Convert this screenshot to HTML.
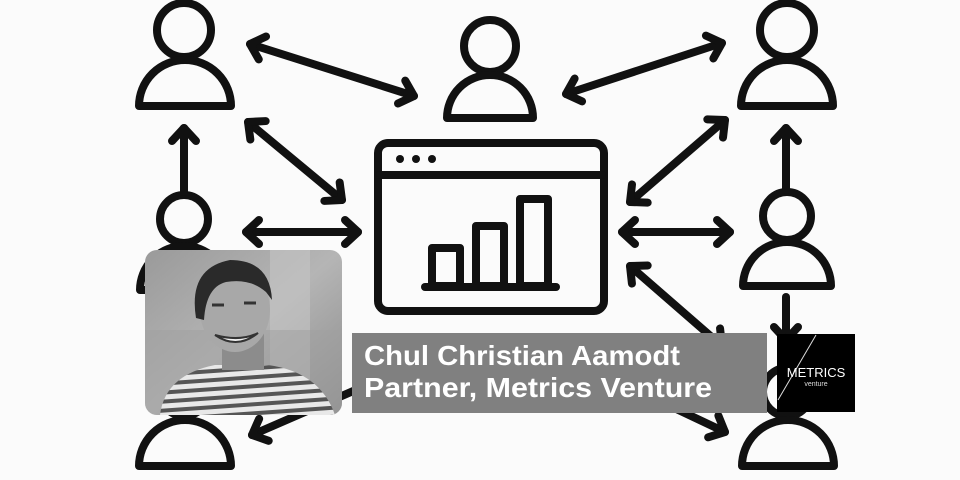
<!DOCTYPE html>
<html><head><meta charset="utf-8"><style>
html,body{margin:0;padding:0;background:#fbfbfb;}
svg{display:block;}
</style></head><body>
<svg width="960" height="480" viewBox="0 0 960 480" xmlns="http://www.w3.org/2000/svg">
<defs>
<marker id="h" markerUnits="userSpaceOnUse" markerWidth="40" markerHeight="40" refX="0" refY="0" viewBox="-20 -20 40 40" orient="auto-start-reverse" overflow="visible">
<path d="M-13,-12 L0,0 L-13,12" fill="none" stroke="#111" stroke-width="8" stroke-linecap="round" stroke-linejoin="round"/>
</marker>
<clipPath id="pc"><rect x="145" y="250" width="197" height="165" rx="12"/></clipPath>
<linearGradient id="bg" x1="0" y1="0" x2="1" y2="1"><stop offset="0" stop-color="#9a9a9a"/><stop offset="0.5" stop-color="#b5b5b5"/><stop offset="1" stop-color="#8a8a8a"/></linearGradient>
<pattern id="st" width="10" height="9" patternUnits="userSpaceOnUse" patternTransform="rotate(-4)"><rect width="10" height="9" fill="#e8e8e8"/><rect y="5" width="10" height="4" fill="#555"/></pattern>
</defs>
<rect width="960" height="480" fill="#fbfbfb"/>
<g fill="none" stroke="#111" stroke-width="8" stroke-linecap="round" stroke-linejoin="round">
<circle cx="184" cy="30" r="27"/><path d="M139,106 A46,46 0 0 1 231,106 Z"/>
<circle cx="490" cy="46" r="26"/><path d="M447,118 A43,43 0 0 1 533,118 Z"/>
<circle cx="787" cy="30" r="27"/><path d="M741,106 A46,46 0 0 1 833,106 Z"/>
<circle cx="184" cy="219" r="24"/><path d="M140,290 A44,44 0 0 1 228,290 Z"/>
<circle cx="787" cy="216" r="24"/><path d="M743,286 A44,44 0 0 1 831,286 Z"/>
<circle cx="184" cy="392" r="24"/><path d="M139,466 A46,46 0 0 1 231,466 Z"/>
<circle cx="787" cy="392" r="24"/><path d="M742,466 A46,46 0 0 1 834,466 Z"/>
<rect x="378" y="143" width="226" height="168" rx="10"/>
<line x1="380" y1="175" x2="602" y2="175"/>
<rect x="432" y="248" width="28" height="38"/>
<rect x="476" y="226" width="28" height="60"/>
<rect x="520" y="199" width="28" height="87"/>
<line x1="425" y1="287" x2="556" y2="287"/>
<line x1="250" y1="44" x2="414" y2="96" marker-start="url(#h)" marker-end="url(#h)"/>
<line x1="566" y1="94" x2="722" y2="43" marker-start="url(#h)" marker-end="url(#h)"/>
<line x1="248" y1="122" x2="342" y2="200" marker-start="url(#h)" marker-end="url(#h)"/>
<line x1="630" y1="202" x2="725" y2="120" marker-start="url(#h)" marker-end="url(#h)"/>
<line x1="246" y1="232" x2="358" y2="232" marker-start="url(#h)" marker-end="url(#h)"/>
<line x1="622" y1="232" x2="730" y2="232" marker-start="url(#h)" marker-end="url(#h)"/>
<line x1="184" y1="192" x2="184" y2="128" marker-end="url(#h)"/>
<line x1="786" y1="190" x2="786" y2="128" marker-end="url(#h)"/>
<line x1="630" y1="266" x2="722" y2="346" marker-start="url(#h)" marker-end="url(#h)"/>
<line x1="786" y1="297" x2="786" y2="340" marker-end="url(#h)"/>
<line x1="252" y1="435" x2="390" y2="375" marker-start="url(#h)" marker-end="url(#h)"/>
<line x1="598" y1="372" x2="725" y2="432" marker-start="url(#h)" marker-end="url(#h)"/>
</g>
<circle cx="400" cy="159" r="4" fill="#111"/><circle cx="416" cy="159" r="4" fill="#111"/><circle cx="432" cy="159" r="4" fill="#111"/>
<g clip-path="url(#pc)">
<rect x="145" y="250" width="197" height="165" fill="url(#bg)"/>
<rect x="270" y="250" width="40" height="165" fill="#c4c4c4" opacity="0.6"/>
<rect x="145" y="330" width="197" height="85" fill="#a0a0a0" opacity="0.5"/>
<path d="M160,415 Q165,375 215,365 L268,365 Q320,372 335,415 Z" fill="url(#st)"/>
<rect x="222" y="330" width="42" height="40" fill="#8c8c8c"/>
<ellipse cx="235" cy="310" rx="35" ry="42" fill="#a8a8a8"/>
<path d="M196,318 Q188,268 230,260 Q270,260 272,300 L266,292 Q250,278 226,282 Q206,287 204,320 Z" fill="#2a2a2a"/>
<path d="M215,335 Q237,350 258,333 Q240,342 215,335 Z" fill="#f2f2f2" stroke="#333" stroke-width="2"/>
<path d="M212,305 l12,0 M244,303 l12,0" stroke="#333" stroke-width="3"/>
</g>
<rect x="352" y="333" width="415" height="80" fill="#808080"/>
<text x="364" y="365" textLength="316" lengthAdjust="spacingAndGlyphs" font-family="'Liberation Sans',sans-serif" font-weight="bold" font-size="28" fill="#fff">Chul Christian Aamodt</text>
<text x="364" y="397" textLength="348" lengthAdjust="spacingAndGlyphs" font-family="'Liberation Sans',sans-serif" font-weight="bold" font-size="28" fill="#fff">Partner, Metrics Venture</text>
<rect x="777" y="334" width="78" height="78" fill="#000"/>
<line x1="816" y1="335" x2="778" y2="400" stroke="#ddd" stroke-width="1"/>
<text x="816" y="377" text-anchor="middle" font-family="'Liberation Sans',sans-serif" font-size="13" fill="#fff">METRICS</text>
<text x="816" y="386" text-anchor="middle" font-family="'Liberation Sans',sans-serif" font-size="7" fill="#ddd">venture</text>
</svg>
</body></html>
